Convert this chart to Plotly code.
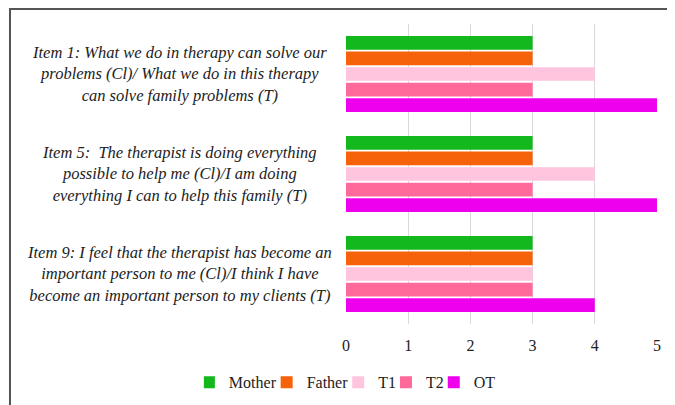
import plotly.graph_objects as go

items = [
    "Item 1: What we do in therapy can solve our<br>problems (Cl)/ What we do in this therapy<br>can solve family problems (T)",
    "Item 5:  The therapist is doing everything<br>possible to help me (Cl)/I am doing<br>everything I can to help this family (T)",
    "Item 9: I feel that the therapist has become an<br>important person to me (Cl)/I think I have<br>become an important person to my clients (T)",
]
cats = ["Item 1", "Item 5", "Item 9"]
series = ["Mother", "Father", "T1", "T2", "OT"]
mother = [3, 3, 3]
father = [3, 3, 3]
t1 = [4, 4, 3]
t2 = [3, 3, 3]
ot = [5, 5, 4]
colors = ["#12b81c", "#f5620a", "#ffc5df", "#ff6a9a", "#ee00ee"]

serif = "Liberation Serif"

fig = go.Figure()
for name, vals, col in zip(series, [mother, father, t1, t2, ot], colors):
    fig.add_trace(go.Bar(y=cats, x=vals, name=name, orientation="h",
                         marker=dict(color=col, line=dict(width=0))))

for cat, txt in zip(cats, items):
    fig.add_annotation(x=-0.5338, xref="paper", y=cat, yref="y", text=txt,
                       showarrow=False, xanchor="center", yanchor="middle",
                       align="center",
                       font=dict(family=serif, size=16.5, color="#222",
                                 style="italic"))

# outer frame (only top and left edges are visible in the picture)
fig.add_shape(type="rect", xref="paper", yref="paper",
              x0=-1.0804, x1=1.3, y0=-0.6, y1=1.05,
              line=dict(color="#555555", width=2))

# the page puts the figure 8px in from the top-left corner
fig.update_layout(
    width=667, height=397,
    margin=dict(l=338, r=18, t=16, b=81),
    plot_bgcolor="white", paper_bgcolor="white",
    barmode="group", bargap=0.22, bargroupgap=0.12,
    font=dict(family=serif, size=15, color="#222"),
    legend=dict(orientation="h", xref="paper", yref="container",
                x=-0.457, xanchor="left", y=0.1, yanchor="top",
                font=dict(family=serif, size=16, color="#222"),
                itemwidth=30, indentation=-15, traceorder="normal"),
    xaxis=dict(range=[0, 5], dtick=1, showgrid=True, gridcolor="#d9d9d9",
               gridwidth=1, zeroline=False, showline=False,
               ticks="", ticklabelstandoff=10,
               tickfont=dict(family=serif, size=16)),
    yaxis=dict(autorange="reversed", showticklabels=False, showgrid=False,
               zeroline=False),
)

fig.write_html("out.html")
